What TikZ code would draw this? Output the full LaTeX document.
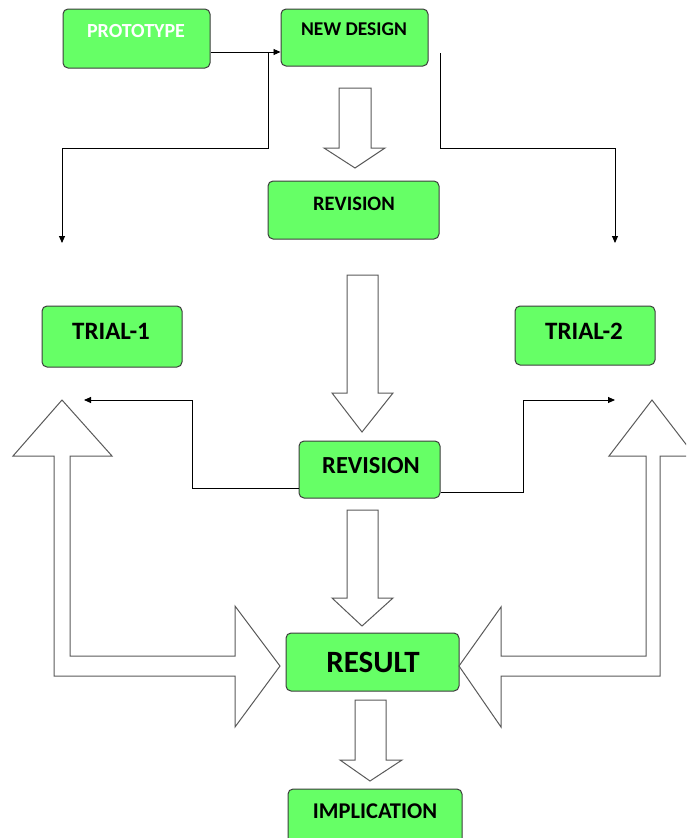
\documentclass[tikz,border=0pt]{standalone}
\usepackage{fontspec}
\setmainfont{Carlito}
\usetikzlibrary{arrows.meta,calc}
\definecolor{boxgreen}{RGB}{102,255,102}
\definecolor{boxedge}{RGB}{60,60,60}
\definecolor{blockedge}{RGB}{90,90,90}
\tikzset{
  greenbox/.style={draw=boxedge, line width=1pt, fill=boxgreen, rounded corners=5pt, inner sep=0pt},
  txt/.style={font=\bfseries, inner sep=0pt, text=black},
  conn/.style={draw=black, line width=0.9pt, -{Triangle[length=7pt,width=6pt]}},
  plainconn/.style={draw=black, line width=0.9pt},
  blockarrow/.style={draw=blockedge, line width=1pt, fill=white, line join=miter}
}
\newcommand{\fs}[1]{\fontsize{#1}{#1}\selectfont}
\begin{document}
\begin{tikzpicture}[x=1pt,y=-1pt]
\clip (0,0) rectangle (686,838);
\fill[white] (0,0) rectangle (686,838);

% boxes
\node[greenbox, minimum width=147pt, minimum height=59pt] (proto) at (136.5,38.5) {};
\node[txt, text=white, font=\bfseries\fs{20}] (prototxt) at (136,31) {PROTOTYPE};
\node[greenbox, minimum width=147pt, minimum height=57pt] (newd) at (354.5,37.5) {};
\node[txt, font=\bfseries\fs{19.5}] (newdtxt) at (354,29) {NEW DESIGN};
\node[greenbox, minimum width=171pt, minimum height=58pt] (rev1) at (353.5,210) {};
\node[txt, font=\bfseries\fs{20.5}] (rev1txt) at (354,204) {REVISION};
\node[greenbox, minimum width=140pt, minimum height=61pt] (trial1) at (112,336.5) {};
\node[txt, font=\bfseries\fs{25}] (trial1txt) at (111,331.5) {TRIAL-1};
\node[greenbox, minimum width=140pt, minimum height=59pt] (trial2) at (585,335.5) {};
\node[txt, font=\bfseries\fs{25}] (trial2txt) at (584,331) {TRIAL-2};
\node[greenbox, minimum width=141pt, minimum height=57pt] (rev2) at (369.5,469.5) {};
\node[txt, font=\bfseries\fs{24.5}] (rev2txt) at (371,465.5) {REVISION};
\node[greenbox, minimum width=173pt, minimum height=58pt] (result) at (372.5,662) {};
\node[txt, font=\bfseries\fs{31}] (resulttxt) at (373,662) {RESULT};
\node[greenbox, minimum width=174pt, minimum height=58pt] (impl) at (375,818) {};
\node[txt, font=\bfseries\fs{22.5}] (impltxt) at (375,811.5) {IMPLICATION};

% coordinates for free ends
\coordinate (j1) at (268,52);
\coordinate (t1) at (62,243);
\coordinate (j2) at (440,53);
\coordinate (t2) at (615,243);
\coordinate (k1) at (192,400);
\coordinate (t3) at (84,400);
\coordinate (k2) at (523,400);
\coordinate (t4) at (615,400);

% thin connectors
\draw[conn] ([yshift=-13.5pt]proto.east) -- ([yshift=-14.5pt]newd.west);
\draw[conn] (j1) -- ++(0,96) -| (t1);
\draw[conn] (j2) -- ++(0,95) -| (t2);
\draw[conn] ([yshift=-18.5pt]rev2.west) -| (k1) -- (t3);
\draw[conn] ([yshift=-22.5pt]rev2.east) -| (k2) -- (t4);

% block arrows (down)
\draw[blockarrow] (339,88) -- (371,88) -- (371,148) -- (385,148) -- (355,168) -- (324,148) -- (339,148) -- cycle;
\draw[blockarrow] (347,275) -- (378,275) -- (378,393) -- (393,393) -- (362,432) -- (332,393) -- (347,393) -- cycle;
\draw[blockarrow] (347,510) -- (378,510) -- (378,598) -- (393,598) -- (362,626) -- (332,598) -- (347,598) -- cycle;
\draw[blockarrow] (355,700) -- (386,700) -- (386,760) -- (402,760) -- (370,781) -- (340,760) -- (355,760) -- cycle;

% left elbow block arrow
\draw[blockarrow] (62,400) -- (112,456) -- (70,456) -- (70,656) -- (235,656) -- (235,606)
  -- (280,666) -- (235,727) -- (235,676) -- (54,676) -- (54,456) -- (13,456) -- cycle;
% right elbow block arrow
\draw[blockarrow] (652,400) -- (695,456) -- (660,456) -- (660,676) -- (501,676) -- (501,727)
  -- (459,666) -- (501,607) -- (501,656) -- (646,656) -- (646,456) -- (609,456) -- cycle;
\end{tikzpicture}
\end{document}
